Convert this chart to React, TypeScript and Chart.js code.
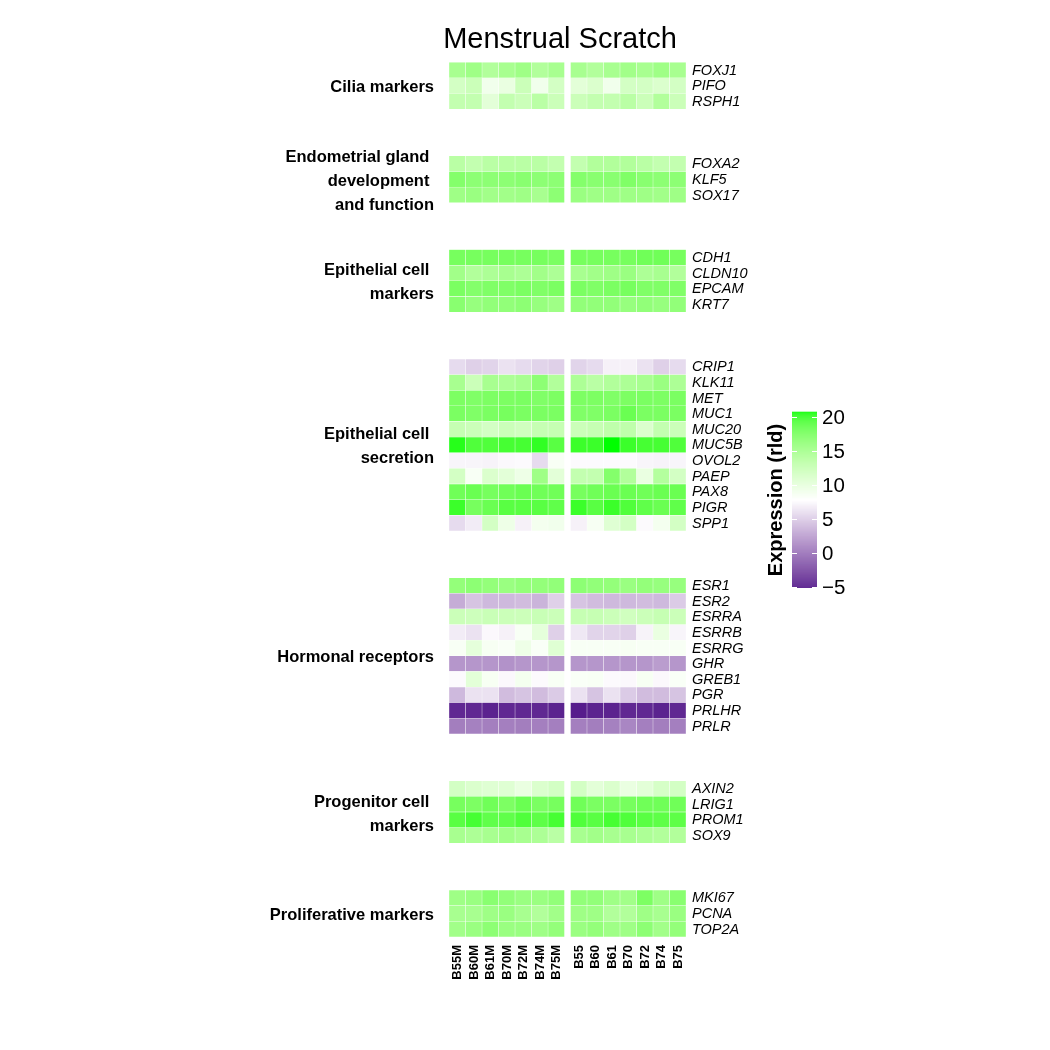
import React, { useEffect, useRef } from "react";
import { Chart, registerables } from "chart.js";

Chart.register(...registerables);

// ---------------- data ----------------
const TITLE = "Menstrual Scratch";
const LEGEND_TITLE = "Expression (rld)";
const SAMPLES_M = ["B55M", "B60M", "B61M", "B70M", "B72M", "B74M", "B75M"];
const SAMPLES = ["B55", "B60", "B61", "B70", "B72", "B74", "B75"];
const LEGEND_TICKS = [20, 15, 10, 5, 0, -5];
const MIDPOINT = 7.75;
const LOW_COLOR = "#551A8B";
const MID_COLOR = "#FFFFFF";
const HIGH_COLOR = "#00FF00";

const GROUP_LABELS = [
  ["Cilia markers"],
  ["Endometrial gland ", "development ", "and function"],
  ["Epithelial cell ", "markers"],
  ["Epithelial cell ", "secretion"],
  ["Hormonal receptors"],
  ["Progenitor cell ", "markers"],
  ["Proliferative markers"],
];

const GROUP_GENES = [
  ["FOXJ1", "PIFO", "RSPH1"],
  ["FOXA2", "KLF5", "SOX17"],
  ["CDH1", "CLDN10", "EPCAM", "KRT7"],
  ["CRIP1", "KLK11", "MET", "MUC1", "MUC20", "MUC5B", "OVOL2", "PAEP", "PAX8", "PIGR", "SPP1"],
  ["ESR1", "ESR2", "ESRRA", "ESRRB", "ESRRG", "GHR", "GREB1", "PGR", "PRLHR", "PRLR"],
  ["AXIN2", "LRIG1", "PROM1", "SOX9"],
  ["MKI67", "PCNA", "TOP2A"],
];

// values: 7 menstrual samples (…M) then 7 samples
const FOXJ1 = [14.9, 15.5, 14.2, 14.9, 15.5, 14.2, 14.9, 14.9, 14.2, 14.9, 15.3, 14.9, 15.5, 14.9];
const PIFO = [11.6, 12.3, 9.0, 9.7, 12.3, 9.0, 11.6, 10.3, 11.0, 9.0, 11.6, 11.6, 11.0, 11.6];
const RSPH1 = [12.9, 12.9, 10.3, 12.9, 12.3, 13.6, 12.3, 12.3, 12.9, 12.9, 13.6, 12.3, 14.2, 12.3];
const FOXA2 = [13.6, 12.9, 13.6, 13.6, 13.6, 13.6, 12.9, 12.9, 14.2, 14.2, 14.2, 13.6, 12.9, 12.9];
const KLF5 = [17.1, 16.6, 16.6, 16.6, 16.8, 16.6, 16.6, 17.1, 16.8, 16.8, 17.3, 16.8, 16.6, 16.6];
const SOX17 = [15.5, 15.8, 15.3, 15.3, 15.5, 14.9, 16.6, 15.8, 15.5, 15.5, 15.5, 15.5, 15.3, 15.5];
const CDH1 = [17.8, 17.8, 17.8, 17.8, 17.8, 17.8, 17.6, 17.8, 17.8, 17.8, 17.8, 18.1, 18.1, 17.8];
const CLDN10 = [15.3, 14.2, 14.5, 14.9, 14.5, 15.3, 14.5, 14.9, 15.3, 15.5, 15.8, 14.5, 14.9, 14.2];
const EPCAM = [17.6, 17.1, 17.3, 17.3, 17.6, 17.3, 17.6, 17.6, 17.3, 17.6, 17.8, 17.3, 17.3, 17.3];
const KRT7 = [16.8, 16.0, 16.3, 16.3, 16.6, 16.0, 15.5, 16.3, 16.3, 16.3, 16.0, 16.3, 16.0, 16.3];
const CRIP1 = [5.8, 5.2, 5.4, 6.2, 5.8, 5.4, 5.2, 5.4, 5.8, 7.0, 7.0, 6.2, 5.2, 5.8];
const KLK11 = [14.9, 12.3, 14.9, 14.5, 14.9, 16.6, 14.2, 14.5, 13.6, 14.2, 14.5, 14.9, 15.8, 14.5];
const MET = [17.5, 17.3, 17.5, 17.5, 17.6, 17.3, 17.5, 17.5, 17.5, 17.3, 17.5, 17.6, 17.5, 17.6];
const MUC1 = [17.6, 17.3, 17.6, 17.8, 17.6, 17.6, 17.6, 17.3, 17.3, 17.6, 18.4, 17.6, 17.6, 17.6];
const MUC20 = [12.7, 12.3, 11.6, 12.3, 11.9, 12.7, 12.7, 12.3, 12.7, 13.2, 13.2, 11.0, 12.9, 12.3];
const MUC5B = [20.4, 19.4, 19.4, 19.7, 19.7, 20.2, 19.1, 20.0, 20.0, 20.73, 20.0, 19.7, 19.7, 19.4];
const OVOL2 = [7.2, 7.2, 7.1, 7.4, 7.5, 5.8, 8.4, 7.5, 7.5, 7.5, 7.5, 7.2, 7.1, 7.2];
const PAEP = [11.6, 8.4, 11.0, 10.3, 9.3, 15.5, 10.3, 12.9, 12.9, 17.1, 14.2, 9.7, 14.0, 11.6];
const PAX8 = [18.1, 18.4, 17.8, 18.1, 18.4, 18.1, 18.1, 17.8, 18.1, 18.4, 18.4, 18.1, 18.4, 18.4];
const PIGR = [20.0, 17.8, 18.4, 19.1, 19.1, 19.1, 18.8, 20.0, 19.1, 20.0, 19.4, 18.8, 18.4, 18.8];
const SPP1 = [5.8, 6.7, 11.6, 9.3, 7.0, 8.8, 9.0, 7.0, 8.5, 10.6, 11.6, 7.5, 8.8, 11.6];
const ESR1 = [16.2, 16.6, 16.2, 15.8, 16.2, 16.2, 16.3, 16.6, 16.3, 16.2, 15.8, 16.2, 16.0, 16.0];
const ESR2 = [3.2, 4.5, 3.9, 3.9, 4.1, 3.6, 5.2, 4.5, 4.1, 3.9, 3.9, 4.1, 3.9, 4.9];
const ESRRA = [12.3, 12.1, 12.4, 12.3, 12.2, 12.5, 12.3, 12.7, 12.7, 12.3, 11.9, 12.3, 12.7, 12.3];
const ESRRB = [6.7, 6.2, 7.4, 7.0, 8.4, 10.1, 5.2, 6.5, 5.4, 5.4, 5.2, 7.1, 9.7, 7.2];
const ESRRG = [8.4, 10.1, 8.5, 8.3, 9.3, 8.3, 10.6, 8.4, 8.4, 8.4, 8.5, 8.4, 8.4, 8.4];
const GHR = [1.9, 1.9, 1.9, 1.7, 1.9, 1.9, 1.9, 1.9, 1.9, 1.9, 1.9, 1.9, 2.3, 1.9];
const GREB1 = [7.5, 10.3, 8.5, 7.4, 8.8, 7.5, 8.4, 8.3, 8.4, 7.5, 7.4, 8.5, 7.4, 8.3];
const PGR = [3.9, 6.2, 6.2, 4.1, 4.5, 4.1, 4.9, 6.2, 4.5, 6.2, 4.9, 4.1, 4.1, 4.5];
const PRLHR = [-4.5, -4.5, -4.8, -4.5, -4.5, -4.5, -4.8, -5.15, -4.8, -4.8, -4.5, -4.5, -4.8, -4.5];
const PRLR = [0.5, 0.7, 0.6, 0.6, 0.5, 0.6, 0.6, 0.6, 0.5, 0.7, 1.0, 0.6, 0.5, 0.6];
const AXIN2 = [11.6, 11.0, 10.6, 10.6, 9.7, 11.0, 11.6, 11.6, 10.3, 11.0, 9.7, 10.3, 11.4, 11.6];
const LRIG1 = [17.8, 17.5, 18.1, 17.5, 18.4, 17.6, 17.8, 18.1, 17.6, 17.6, 17.8, 18.1, 18.1, 18.1];
const PROM1 = [19.1, 19.7, 18.8, 18.8, 19.4, 18.9, 19.7, 19.4, 19.1, 19.7, 19.4, 19.1, 18.9, 18.9];
const SOX9 = [14.9, 14.5, 14.9, 15.3, 14.9, 14.5, 13.6, 14.9, 15.3, 14.9, 14.9, 14.5, 14.2, 14.2];
const MKI67 = [15.5, 15.8, 16.8, 16.3, 15.8, 15.8, 16.3, 16.3, 16.3, 15.5, 15.3, 17.5, 15.5, 16.8];
const PCNA = [14.9, 14.9, 15.5, 15.8, 14.9, 14.2, 15.3, 15.5, 15.5, 14.2, 14.2, 15.5, 14.9, 15.8];
const TOP2A = [15.3, 15.8, 16.6, 15.8, 15.8, 15.5, 16.2, 15.8, 16.2, 15.5, 15.5, 16.6, 15.3, 16.2];

const GROUP_VALUES = [
  [FOXJ1, PIFO, RSPH1],
  [FOXA2, KLF5, SOX17],
  [CDH1, CLDN10, EPCAM, KRT7],
  [CRIP1, KLK11, MET, MUC1, MUC20, MUC5B, OVOL2, PAEP, PAX8, PIGR, SPP1],
  [ESR1, ESR2, ESRRA, ESRRB, ESRRG, GHR, GREB1, PGR, PRLHR, PRLR],
  [AXIN2, LRIG1, PROM1, SOX9],
  [MKI67, PCNA, TOP2A],
];

// ---------------- colour scale (Lab interpolation, like ggplot gradient2) ----------------
const Xn = 0.95047, Yn = 1.0, Zn = 1.08883;
const toLin = (c: number) => {
  const v = c / 255;
  return v <= 0.04045 ? v / 12.92 : Math.pow((v + 0.055) / 1.055, 2.4);
};
const fromLin = (c: number) => {
  const v = c <= 0.0031308 ? 12.92 * c : 1.055 * Math.pow(Math.max(c, 0), 1 / 2.4) - 0.055;
  return Math.round(Math.max(0, Math.min(1, v)) * 255);
};
const fl = (t: number) => (t > 0.008856 ? Math.cbrt(t) : 7.787 * t + 16 / 116);
const finv = (t: number) => (t > 0.206893 ? t * t * t : (t - 16 / 116) / 7.787);
function hexToLab(hex: string): [number, number, number] {
  const r = toLin(parseInt(hex.slice(1, 3), 16));
  const g = toLin(parseInt(hex.slice(3, 5), 16));
  const b = toLin(parseInt(hex.slice(5, 7), 16));
  const X = 0.4124 * r + 0.3576 * g + 0.1805 * b;
  const Y = 0.2126 * r + 0.7152 * g + 0.0722 * b;
  const Z = 0.0193 * r + 0.1192 * g + 0.9505 * b;
  const fx = fl(X / Xn), fy = fl(Y / Yn), fz = fl(Z / Zn);
  return [116 * fy - 16, 500 * (fx - fy), 200 * (fy - fz)];
}
function labToCss(L: number, a: number, bb: number): string {
  const fy = (L + 16) / 116;
  const fx = fy + a / 500;
  const fz = fy - bb / 200;
  const X = Xn * finv(fx), Y = Yn * finv(fy), Z = Zn * finv(fz);
  const r = 3.2406 * X - 1.5372 * Y - 0.4986 * Z;
  const g = -0.9689 * X + 1.8758 * Y + 0.0415 * Z;
  const b = 0.0557 * X - 0.204 * Y + 1.057 * Z;
  return `rgb(${fromLin(r)},${fromLin(g)},${fromLin(b)})`;
}
const LAB_LOW = hexToLab(LOW_COLOR);
const LAB_MID = hexToLab(MID_COLOR);
const LAB_HIGH = hexToLab(HIGH_COLOR);

const ALL_VALUES = GROUP_VALUES.flat(2);
const DATA_MIN = Math.min(...ALL_VALUES);
const DATA_MAX = Math.max(...ALL_VALUES);
const HALF_SPAN = Math.max(Math.abs(DATA_MAX - MIDPOINT), Math.abs(DATA_MIN - MIDPOINT));

function colorFor(v: number): string {
  const t = Math.min(1, Math.abs(v - MIDPOINT) / HALF_SPAN);
  const end = v >= MIDPOINT ? LAB_HIGH : LAB_LOW;
  return labToCss(
    LAB_MID[0] + (end[0] - LAB_MID[0]) * t,
    LAB_MID[1] + (end[1] - LAB_MID[1]) * t,
    LAB_MID[2] + (end[2] - LAB_MID[2]) * t
  );
}

// ---------------- layout constants ----------------
const FONT = "'Liberation Sans', Arial, Helvetica, sans-serif";
const GAP_ROWS = 3;
const COL_GAP = 0.36;
const ALL_SAMPLES = [...SAMPLES_M, ...SAMPLES];

export default function App() {
  const ref = useRef<HTMLCanvasElement | null>(null);

  useEffect(() => {
    if (!ref.current) return;

    // Build row slots (genes + spacer rows between groups)
    const labels: string[] = [];
    const rowVals: (number[] | null)[] = [];
    const groupRange: [number, number][] = [];
    GROUP_GENES.forEach((genes, gi) => {
      if (gi > 0) {
        for (let k = 0; k < GAP_ROWS; k++) {
          labels.push("");
          rowVals.push(null);
        }
      }
      const start = labels.length;
      genes.forEach((g, ri) => {
        labels.push(g);
        rowVals.push(GROUP_VALUES[gi][ri]);
      });
      groupRange.push([start, labels.length - 1]);
    });

    const centers = ALL_SAMPLES.map((_, c) => (c < SAMPLES_M.length ? c : c + COL_GAP));
    const xMax = centers[centers.length - 1] + 0.5;

    const datasets = centers.map((xc, c) => ({
      label: ALL_SAMPLES[c],
      data: rowVals.map((r) => (r ? [xc - 0.5, xc + 0.5] : null)),
      backgroundColor: rowVals.map((r) => (r ? colorFor(r[c]) : "rgba(0,0,0,0)")),
      borderColor: "rgba(255,255,255,0.3)",
      borderWidth: 0.5,
      borderSkipped: false,
      grouped: false,
      barPercentage: 1,
      categoryPercentage: 1,
    }));

    const overlay = {
      id: "overlay",
      afterDraw(chart: any) {
        const ctx = chart.ctx;
        const xs = chart.scales.x;
        const ys = chart.scales.y;
        const area = chart.chartArea;
        ctx.save();
        ctx.fillStyle = "#000";

        // title
        ctx.font = `29px ${FONT}`;
        ctx.textAlign = "center";
        ctx.textBaseline = "alphabetic";
        ctx.fillText(TITLE, 560, 48);

        // gene labels (right side)
        ctx.font = `italic 14.5px ${FONT}`;
        ctx.textAlign = "left";
        ctx.textBaseline = "middle";
        labels.forEach((lab, i) => {
          if (!lab) return;
          ctx.fillText(lab, area.right + 6, ys.getPixelForValue(i) + 0.5);
        });

        // sample labels (bottom, rotated)
        ctx.font = `bold 13px ${FONT}`;
        ctx.textAlign = "right";
        ctx.textBaseline = "middle";
        centers.forEach((c, i) => {
          ctx.save();
          ctx.translate(xs.getPixelForValue(c) + 0.5, area.bottom + 8);
          ctx.rotate(-Math.PI / 2);
          ctx.fillText(ALL_SAMPLES[i], 0, 0);
          ctx.restore();
        });

        // group labels
        ctx.font = `bold 16.5px ${FONT}`;
        ctx.textAlign = "right";
        ctx.textBaseline = "middle";
        GROUP_LABELS.forEach((lines, gi) => {
          const [a, b] = groupRange[gi];
          const yc = (ys.getPixelForValue(a) + ys.getPixelForValue(b)) / 2 + 2;
          const lh = 24;
          lines.forEach((ln, li) => {
            const y = yc + (li - (lines.length - 1) / 2) * lh;
            ctx.fillText(ln, 434, y);
          });
        });

        // colour bar legend
        const bx = 792, bw = 25, bt = 411.7, bb = 588;
        const valToY = (v: number) => bt + ((DATA_MAX - v) / (DATA_MAX - DATA_MIN)) * (bb - bt);
        for (let y = bt; y < bb; y += 1) {
          const v = DATA_MAX - ((y + 0.5 - bt) / (bb - bt)) * (DATA_MAX - DATA_MIN);
          ctx.fillStyle = colorFor(v);
          ctx.fillRect(bx, y, bw, Math.min(1.2, bb - y));
        }
        ctx.strokeStyle = "#ffffff";
        ctx.lineWidth = 1;
        ctx.fillStyle = "#000";
        ctx.font = `20.5px ${FONT}`;
        ctx.textAlign = "left";
        ctx.textBaseline = "middle";
        LEGEND_TICKS.forEach((t) => {
          if (t > DATA_MAX || t < DATA_MIN) return;
          const y = Math.round(valToY(t)) + 0.5;
          ctx.beginPath();
          ctx.moveTo(bx, y);
          ctx.lineTo(bx + 5, y);
          ctx.moveTo(bx + bw - 5, y);
          ctx.lineTo(bx + bw, y);
          ctx.stroke();
          const txt = t < 0 ? "\u2212" + Math.abs(t) : String(t);
          ctx.fillText(txt, 822, y + 1);
        });
        // legend title
        ctx.translate(776, 500);
        ctx.rotate(-Math.PI / 2);
        ctx.font = `bold 20px ${FONT}`;
        ctx.textAlign = "center";
        ctx.textBaseline = "middle";
        ctx.fillText(LEGEND_TITLE, 0, 0);
        ctx.restore();
      },
    };

    const chart = new Chart(ref.current, {
      type: "bar",
      data: { labels, datasets: datasets as any },
      options: {
        indexAxis: "y",
        animation: false,
        responsive: false,
        maintainAspectRatio: false,
        layout: { padding: { left: 449, top: 62.2, right: 364, bottom: 113 } },
        plugins: {
          legend: { display: false },
          tooltip: { enabled: false },
          title: { display: false },
        },
        scales: {
          x: {
            type: "linear",
            display: false,
            min: -0.5,
            max: xMax,
          },
          y: {
            type: "category",
            display: false,
            offset: true,
          },
        },
      },
      plugins: [overlay],
    });

    return () => chart.destroy();
  }, []);

  return (
    <div style={{ position: "absolute", left: 0, top: 0, width: 1050, height: 1050, background: "#fff" }}>
      <canvas ref={ref} width={1050} height={1050} style={{ display: "block" }} />
    </div>
  );
}
